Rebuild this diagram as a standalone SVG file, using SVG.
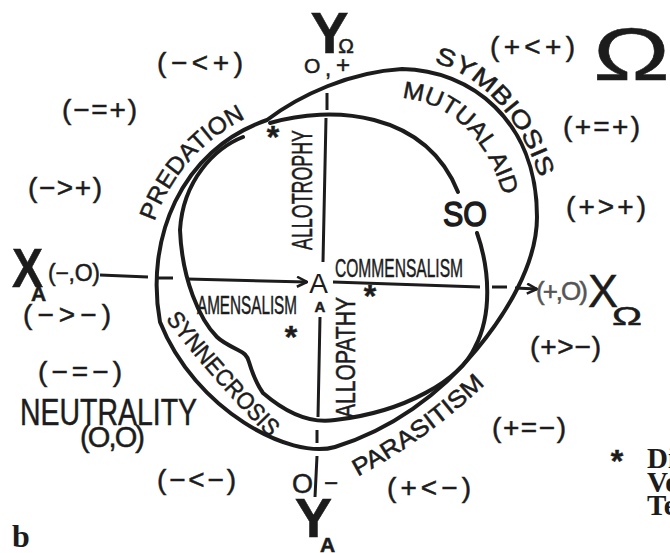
<svg xmlns="http://www.w3.org/2000/svg" width="670" height="553" viewBox="0 0 670 553">
<style>
.ln{fill:none;stroke:#1c1c1c;stroke-width:4;stroke-linecap:round;stroke-linejoin:round}
.ax{fill:none;stroke:#1c1c1c;stroke-width:3;stroke-linecap:butt}
.t{font-family:"Liberation Sans",Arial,sans-serif;fill:#1c1c1c;stroke:#1c1c1c;stroke-width:0.5}
.rel{font-size:28px}
.lab{font-size:24px}
.big{font-weight:bold}
.mono{font-family:"Liberation Serif","Times New Roman",serif;font-weight:bold;fill:#1c1c1c}
.star{font-size:32px;font-weight:bold;text-anchor:middle}
</style>
<defs>
<marker id="arr" viewBox="0 0 12 12" refX="11" refY="6" markerWidth="12" markerHeight="12" markerUnits="userSpaceOnUse" orient="auto">
<path d="M1 1 L11 6 L1 11" fill="none" stroke="#1c1c1c" stroke-width="2.5"/>
</marker>
<path id="pPred" d="M 151 233 A 180 180 0 0 1 263 111"/>
<path id="pSym" d="M 432 62 C 470 70 520 110 540 180"/>
<path id="pMut" d="M 400 98 C 440 100 490 130 507 210"/>
<path id="pSyn" d="M 163 316 Q 212 380 272 440"/>
<path id="pPar" d="M 355 478 Q 428 440 492 378"/>
</defs>
<rect width="670" height="553" fill="#ffffff"/>

<g id="connectors">
<path class="ln" d="M 267 120 C 300 95 350 72 402 69 C 470 70 537 120 537 217 C 537 265 505 315 477 349 C 440 395 390 430 335 447 C 290 460 195 410 160 322 C 145 240 180 150 267 120"/>
<path class="ln" d="M 270 123 C 330 105 425 110 458 192"/>
<path class="ln" d="M 477 233 C 490 270 492 315 475 347 C 460 380 405 412 335 420 C 310 424 285 412 263 393 C 256 383 252 372 249 362 C 247 355 244 353 238 350 C 228 345 222 342 217 337 C 200 320 182 280 180 230 C 183 180 215 148 243 137"/>
<path class="ax" d="M 100 275 L 148 277 M 158 278 L 173 278"/>
<path class="ax" d="M 187 279 L 307 282" marker-end="url(#arr)"/>
<path class="ax" d="M 333 282 L 480 287 M 492 287 L 507 287"/>
<path class="ax" d="M 515 288 L 537 289" marker-end="url(#arr)"/>
<path class="ax" d="M 327 93 L 327 110 M 326 118 L 323 262"/>
<path class="ax" d="M 320 317 L 318 417 M 317 430 L 317 443 M 317 456 L 315 497"/>
</g>

<g id="axis-labels">
<g id="y-omega"><text class="t big" x="329.5" y="53" font-size="57" text-anchor="middle">Y</text><text class="t" x="346" y="53" font-size="21" text-anchor="middle">Ω</text></g>
<g id="o-plus"><text class="t" x="304" y="73" font-size="21">O</text><text class="t" x="325" y="76" font-size="22">,</text><text class="t" x="336" y="73" font-size="24">+</text></g>
<g id="x-a"><text class="t big" x="12" y="287" font-size="56" textLength="31" lengthAdjust="spacingAndGlyphs">X</text><text class="t big" x="31" y="301" font-size="21">A</text></g>
<g id="minus-o"><text class="t" x="48" y="281" font-size="23" textLength="52" lengthAdjust="spacing">(−,O)</text></g>
<g id="plus-o"><text class="t" x="536" y="300" font-size="26" style="fill:#555;stroke:#555" textLength="52" lengthAdjust="spacing">(+,O)</text></g>
<g id="x-omega"><text class="t" x="588" y="307" font-size="46" textLength="30" lengthAdjust="spacingAndGlyphs">X</text><text class="t" x="612" y="325" font-size="25" textLength="30" lengthAdjust="spacingAndGlyphs">Ω</text></g>
<g id="y-a"><text class="t big" x="313.5" y="537" font-size="56" text-anchor="middle">Y</text><text class="t big" x="320" y="552" font-size="21">A</text></g>
<g id="o-minus"><text class="t" x="292" y="493" font-size="27">O</text><text class="t" x="324" y="491" font-size="24">−</text></g>
<g id="center-a"><text class="t" x="318.5" y="293" font-size="28" text-anchor="middle" style="stroke-width:0">A</text><text class="t big" x="320" y="312" font-size="15" text-anchor="middle">A</text></g>
<g id="omega-big"><text class="t" x="593" y="80" font-size="74" textLength="77" lengthAdjust="spacingAndGlyphs">Ω</text></g>
</g>

<g id="relations">
<text id="r1" class="t rel" x="157" y="72" textLength="86" lengthAdjust="spacing">(−&lt;+)</text>
<text id="r2" class="t rel" x="62" y="119" textLength="75" lengthAdjust="spacing">(−=+)</text>
<text id="r3" class="t rel" x="28" y="197" textLength="74" lengthAdjust="spacing">(−&gt;+)</text>
<text id="r4" class="t rel" x="490" y="56" textLength="85" lengthAdjust="spacing">(+&lt;+)</text>
<text id="r5" class="t rel" x="563" y="136" textLength="77" lengthAdjust="spacing">(+=+)</text>
<text id="r6" class="t rel" x="566" y="216" textLength="80" lengthAdjust="spacing">(+&gt;+)</text>
<text id="r7" class="t rel" x="23" y="324" textLength="88" lengthAdjust="spacing">(−&gt;−)</text>
<text id="r8" class="t rel" x="38" y="381" textLength="84" lengthAdjust="spacing">(−=−)</text>
<text id="r9" class="t rel" x="157" y="489" textLength="79" lengthAdjust="spacing">(−&lt;−)</text>
<text id="r10" class="t rel" x="530" y="356" textLength="71" lengthAdjust="spacing">(+&gt;−)</text>
<text id="r11" class="t rel" x="492" y="437" textLength="74" lengthAdjust="spacing">(+=−)</text>
<text id="r12" class="t rel" x="387" y="497" textLength="84" lengthAdjust="spacing">(+&lt;−)</text>
</g>

<g id="neutrality">
<text class="t" x="20" y="425" font-size="37" textLength="177" lengthAdjust="spacingAndGlyphs">NEUTRALITY</text>
<text class="t" x="80" y="447" font-size="29" textLength="65" lengthAdjust="spacing">(O,O)</text>
</g>

<g id="predation"><text class="t lab" font-size="26"><textPath href="#pPred" startOffset="12" textLength="141" lengthAdjust="spacingAndGlyphs">PREDATION</textPath></text></g>
<g id="symbiosis"><text class="t lab"><textPath href="#pSym" startOffset="2" textLength="163" lengthAdjust="spacingAndGlyphs">SYMBIOSIS</textPath></text></g>
<g id="mutual-aid"><text class="t lab"><textPath href="#pMut" startOffset="2" textLength="150" lengthAdjust="spacingAndGlyphs">MUTUAL AID</textPath></text></g>
<g id="synnecrosis"><text class="t lab" font-size="22"><textPath href="#pSyn" startOffset="4" textLength="158" lengthAdjust="spacingAndGlyphs">SYNNECROSIS</textPath></text></g>
<g id="parasitism"><text class="t lab" font-size="22"><textPath href="#pPar" startOffset="3" textLength="158" lengthAdjust="spacingAndGlyphs">PARASITISM</textPath></text></g>

<g id="allotrophy"><text class="t" transform="translate(312,250) rotate(-90)" x="0" y="0" font-size="30" textLength="120" lengthAdjust="spacingAndGlyphs">ALLOTROPHY</text></g>
<g id="allopathy"><text class="t" transform="translate(355,418) rotate(-90)" x="0" y="0" font-size="27" textLength="121" lengthAdjust="spacingAndGlyphs">ALLOPATHY</text></g>
<g id="commensalism"><text class="t" x="335" y="277" font-size="26" textLength="128" lengthAdjust="spacingAndGlyphs">COMMENSALISM</text></g>
<g id="amensalism"><text class="t" x="197" y="314" font-size="26" textLength="100" lengthAdjust="spacingAndGlyphs">AMENSALISM</text></g>
<g id="so"><text class="t" x="443" y="226" font-size="35" textLength="44" lengthAdjust="spacingAndGlyphs" style="stroke-width:1.5">SO</text></g>

<g id="stars">
<text class="t star" x="273" y="148">*</text>
<text class="t star" x="291" y="348">*</text>
<text class="t star" x="370" y="307">*</text>
</g>

<g id="footnote">
<text class="t star" x="617" y="472">*</text>
<text class="mono" x="647" y="468" font-size="29">Di</text>
<text class="mono" x="647" y="492" font-size="29">Ve</text>
<text class="mono" x="647" y="515" font-size="29">Te</text>
</g>
<g id="label-b"><text class="mono" x="12" y="547" font-size="32">b</text></g>
</svg>
